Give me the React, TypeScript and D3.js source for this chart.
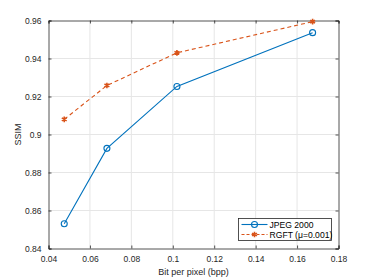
import React, { useEffect, useRef } from "react";
import * as d3 from "d3";

const bpp = [0.0476, 0.0682, 0.102, 0.1675];
const jpeg2000 = [0.853, 0.8927, 0.9253, 0.9536];
const rgft = [0.908, 0.9258, 0.943, 0.9594];
const xTicks = [0.04, 0.06, 0.08, 0.1, 0.12, 0.14, 0.16, 0.18];
const yTicks = [0.84, 0.86, 0.88, 0.9, 0.92, 0.94, 0.96];
const seriesNames = ["JPEG 2000", "RGFT (\u03bc=0.001)"];

export default function App() {
  const svgRef = useRef<SVGSVGElement>(null);

  useEffect(() => {
    const svg = d3.select(svgRef.current);
    svg.selectAll("*").remove();

    const margin = { top: 20.5, right: 35.5, bottom: 31.5, left: 48.5 };
    const width = 374;
    const height = 280;
    const font = "'Liberation Sans', Arial, sans-serif";

    const x = d3.scaleLinear().domain([0.04, 0.18]).range([margin.left, width - margin.right]);
    const y = d3.scaleLinear().domain([0.84, 0.96]).range([height - margin.bottom, margin.top]);

    // background
    svg.append("rect").attr("width", width).attr("height", height).attr("fill", "#fff");

    // grid
    const grid = svg.append("g").attr("stroke", "#e6e6e6").attr("stroke-width", 1);
    xTicks.slice(1, -1).forEach((t) => {
      grid.append("line").attr("x1", x(t)).attr("x2", x(t)).attr("y1", y(0.84)).attr("y2", y(0.96));
    });
    yTicks.slice(1, -1).forEach((t) => {
      grid.append("line").attr("x1", x(0.04)).attr("x2", x(0.18)).attr("y1", y(t)).attr("y2", y(t));
    });

    // axes (ticks inward)
    const xAxis = svg
      .append("g")
      .attr("transform", `translate(0,${y(0.84)})`)
      .call(d3.axisBottom(x).tickValues(xTicks).tickSize(-3).tickPadding(7).tickFormat((d) => String(+d)));
    const xTop = svg
      .append("g")
      .attr("transform", `translate(0,${y(0.96)})`)
      .call(d3.axisTop(x).tickValues(xTicks).tickSize(-3).tickFormat(() => ""));
    const yAxis = svg
      .append("g")
      .attr("transform", `translate(${x(0.04)},0)`)
      .call(d3.axisLeft(y).tickValues(yTicks).tickSize(-3).tickPadding(7).tickFormat((d) => String(+d)));
    const yRight = svg
      .append("g")
      .attr("transform", `translate(${x(0.18)},0)`)
      .call(d3.axisRight(y).tickValues(yTicks).tickSize(-3).tickFormat(() => ""));

    [xAxis, xTop, yAxis, yRight].forEach((g) => {
      g.selectAll("path").attr("stroke", "#262626").attr("stroke-width", 0.8);
      g.selectAll("line").attr("stroke", "#262626").attr("stroke-width", 0.8);
      g.selectAll("text").attr("fill", "#262626").style("font-family", font).style("font-size", "8.5px");
    });

    // axis labels
    svg
      .append("text")
      .attr("x", (x(0.04) + x(0.18)) / 2)
      .attr("y", height - 5)
      .attr("text-anchor", "middle")
      .style("font-family", font)
      .style("font-size", "9px")
      .attr("fill", "#262626")
      .text("Bit per pixel (bpp)");
    svg
      .append("text")
      .attr("transform", `translate(21,${(y(0.84) + y(0.96)) / 2}) rotate(-90)`)
      .attr("text-anchor", "middle")
      .style("font-family", font)
      .style("font-size", "9px")
      .attr("fill", "#262626")
      .text("SSIM");

    const line = d3
      .line<number>()
      .x((_, i) => x(bpp[i]))
      .y((d) => y(d));

    const blue = "#0072BD";
    const orange = "#D95319";

    // JPEG 2000
    svg.append("path").datum(jpeg2000).attr("d", line).attr("fill", "none").attr("stroke", blue).attr("stroke-width", 1.1);
    svg
      .selectAll(".jp")
      .data(jpeg2000)
      .enter()
      .append("circle")
      .attr("cx", (_, i) => x(bpp[i]))
      .attr("cy", (d) => y(d))
      .attr("r", 3)
      .attr("fill", "none")
      .attr("stroke", blue)
      .attr("stroke-width", 1.1);

    // RGFT
    svg
      .append("path")
      .datum(rgft)
      .attr("d", line)
      .attr("fill", "none")
      .attr("stroke", orange)
      .attr("stroke-width", 1.1)
      .attr("stroke-dasharray", "4,3");
    const star = d3.symbol().type(d3.symbolAsterisk).size(22);
    svg
      .selectAll(".rg")
      .data(rgft)
      .enter()
      .append("path")
      .attr("d", star)
      .attr("transform", (d, i) => `translate(${x(bpp[i])},${y(d)})`)
      .attr("fill", "none")
      .attr("stroke", orange)
      .attr("stroke-width", 1.6);

    // legend
    const lx = 238.5;
    const ly = 218.5;
    const legend = svg.append("g");
    legend
      .append("rect")
      .attr("x", lx)
      .attr("y", ly)
      .attr("width", 93)
      .attr("height", 22)
      .attr("fill", "#fff")
      .attr("stroke", "#262626")
      .attr("stroke-width", 0.8);
    const rows = [ly + 6, ly + 16];
    legend.append("line").attr("x1", lx + 3).attr("x2", lx + 29).attr("y1", rows[0]).attr("y2", rows[0]).attr("stroke", blue).attr("stroke-width", 1.1);
    legend.append("circle").attr("cx", lx + 16).attr("cy", rows[0]).attr("r", 3).attr("fill", "none").attr("stroke", blue).attr("stroke-width", 1.1);
    legend
      .append("line")
      .attr("x1", lx + 3)
      .attr("x2", lx + 29)
      .attr("y1", rows[1])
      .attr("y2", rows[1])
      .attr("stroke", orange)
      .attr("stroke-width", 1.1)
      .attr("stroke-dasharray", "3,2");
    legend.append("path").attr("d", star).attr("transform", `translate(${lx + 16},${rows[1]})`).attr("fill", "none").attr("stroke", orange).attr("stroke-width", 1.6);
    seriesNames.forEach((name, i) => {
      legend
        .append("text")
        .attr("x", lx + 31)
        .attr("y", rows[i] + 3)
        .style("font-family", font)
        .style("font-size", "8.6px")
        .attr("fill", "#000")
        .text(name);
    });
  }, []);

  return <svg ref={svgRef} width={374} height={280} style={{ position: "absolute", left: 0, top: 0 }}></svg>;
}
